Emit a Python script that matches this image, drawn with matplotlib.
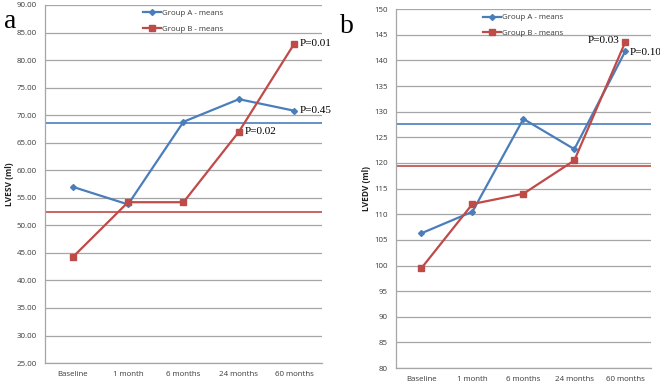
import matplotlib
matplotlib.use("Agg")
import matplotlib.pyplot as plt

categories = ["Baseline", "1 month", "6 months", "24 months", "60 months"]

# Panel a: LVESV
a_group_a = [57.0, 53.8, 68.8, 72.9, 70.8]
a_group_b = [44.2, 54.2, 54.2, 67.0, 83.0]
a_ref_a = 68.5
a_ref_b = 52.4
a_yticks = [25, 30, 35, 40, 45, 50, 55, 60, 65, 70, 75, 80, 85, 90]

# Panel b: LVEDV
b_group_a = [106.3, 110.5, 128.6, 122.7, 141.8]
b_group_b = [99.5, 112.0, 114.0, 120.5, 143.6]
b_ref_a = 127.6
b_ref_b = 119.5
b_yticks = [80, 85, 90, 95, 100, 105, 110, 115, 120, 125, 130, 135, 140, 145, 150]

BLUE = "#4A7EBB"
RED = "#BE4B48"
GRID = "#A6A6A6"
TXT = "#3A3A3A"
SANS = ["Open Sans", "DejaVu Sans"]
SERIF = ["Liberation Serif", "DejaVu Serif"]

fig = plt.figure(figsize=(6.6, 3.83), dpi=100)


def panel(rect, ga, gb, ra, rb, yticks, fmt, ylabel, letter, letter_xy, pnotes, lpad):
    ax = fig.add_axes(rect)
    x = list(range(len(categories)))
    ax.set_xlim(-0.5, len(categories) - 0.5)
    ax.set_ylim(yticks[0], yticks[-1])
    ax.set_yticks(yticks)
    ax.set_yticklabels([fmt.format(v) for v in yticks], fontsize=5.7,
                       family=SANS, color=TXT)
    ax.set_xticks(x)
    ax.set_xticklabels(categories, fontsize=5.7, family=SANS, color=TXT)
    ax.tick_params(axis="both", length=0, pad=6)
    ax.grid(axis="y", color=GRID, linewidth=0.9)
    ax.set_axisbelow(True)
    for s in ["top", "right"]:
        ax.spines[s].set_visible(False)
    for s in ["left", "bottom"]:
        ax.spines[s].set_color(GRID)
        ax.spines[s].set_linewidth(0.9)
    ax.axhline(ra, color=BLUE, linewidth=1.2, zorder=2)
    ax.axhline(rb, color=RED, linewidth=1.2, zorder=2)
    ax.plot(x, ga, color=BLUE, linewidth=1.6, marker="D", markersize=3,
            label="Group A - means", zorder=3)
    ax.plot(x, gb, color=RED, linewidth=1.6, marker="s", markersize=5,
            label="Group B - means", zorder=3)
    leg = ax.legend(loc="upper center", bbox_to_anchor=(0.5, 1.0),
                    frameon=False, prop={"family": SANS, "size": 5.7},
                    handlelength=2.2, handletextpad=0.2, labelspacing=1.0,
                    borderaxespad=0.2)
    for t in leg.get_texts():
        t.set_color(TXT)
    ax.set_ylabel(ylabel, fontsize=6, fontweight="bold", family=SANS,
                  color="#202020", labelpad=lpad)
    fig.text(letter_xy[0], letter_xy[1], letter, fontsize=20, family=SERIF,
             ha="left", va="center")
    for idx, series, text, dx, dy, ha in pnotes:
        ax.annotate(text, (idx, series[idx]), xytext=(dx, dy),
                    textcoords="offset points", fontsize=8, family=SERIF,
                    ha=ha, va="center")
    return ax


panel([0.068, 0.052, 0.420, 0.935], a_group_a, a_group_b, a_ref_a, a_ref_b,
      a_yticks, "{:.2f}", "LVESV (ml)", "a", (0.006, 0.945),
      [(4, a_group_b, "P=0.01", 4, 0, "left"),
       (4, a_group_a, "P=0.45", 4, 0, "left"),
       (3, a_group_b, "P=0.02", 4, 0, "left")], 1.5)

panel([0.600, 0.039, 0.386, 0.937], b_group_a, b_group_b, b_ref_a, b_ref_b,
      b_yticks, "{:d}", "LVEDV (ml)", "b", (0.515, 0.93),
      [(4, b_group_b, "P=0.03", -4, 1, "right"),
       (4, b_group_a, "P=0.10", 3, -1, "left")], 2.5)

fig.savefig("out.png", dpi=100)
